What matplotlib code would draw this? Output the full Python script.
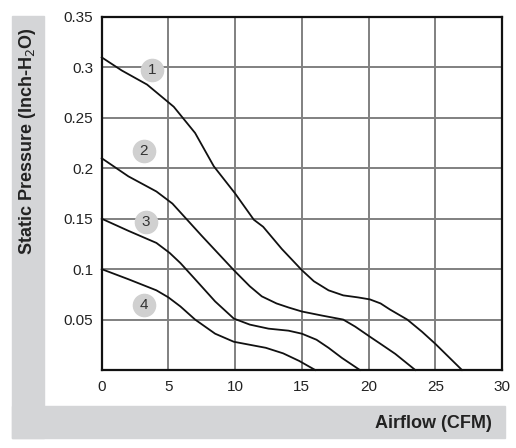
import matplotlib.pyplot as plt
from matplotlib.patches import Rectangle

plt.rcParams['font.family'] = ['Liberation Sans', 'DejaVu Sans']

# fan curves: airflow (CFM) vs static pressure (inch H2O)
x1 = [0, 1.5, 3.4, 5.4, 7, 8.4, 10, 11.4, 12.1, 13.5, 15, 15.9, 17, 18.1, 19.2, 20.1, 20.9, 21.6, 22.9, 24, 25, 26, 27]
y1 = [0.31, 0.297, 0.283, 0.261, 0.235, 0.202, 0.175, 0.149, 0.142, 0.12, 0.099, 0.088, 0.079, 0.074, 0.072, 0.07, 0.066, 0.06, 0.05, 0.038, 0.026, 0.013, 0.0]

x2 = [0, 2, 4.1, 5.3, 6.4, 7.5, 8.7, 9.9, 11.1, 12, 13.1, 14, 15, 16.5, 18.1, 19, 20.1, 21, 22, 23.5]
y2 = [0.21, 0.192, 0.177, 0.165, 0.149, 0.133, 0.116, 0.099, 0.083, 0.073, 0.066, 0.062, 0.058, 0.054, 0.05, 0.043, 0.033, 0.025, 0.016, 0.0]

x3 = [0, 2, 4.1, 5.1, 5.9, 7, 8.5, 9.9, 11.1, 12.5, 14, 15, 16.1, 17, 18, 19.35]
y3 = [0.15, 0.138, 0.126, 0.116, 0.106, 0.09, 0.068, 0.051, 0.045, 0.041, 0.039, 0.036, 0.03, 0.022, 0.012, 0.0]

x4 = [0, 2, 4.1, 5, 5.9, 7, 8.5, 9.9, 11.1, 12.3, 13.6, 14.8, 16]
y4 = [0.10, 0.09, 0.079, 0.072, 0.063, 0.05, 0.036, 0.028, 0.025, 0.022, 0.0165, 0.009, 0.0]

curves = [(x1, y1), (x2, y2), (x3, y3), (x4, y4)]
labels = ['1', '2', '3', '4']
label_x = [3.77, 3.17, 3.32, 3.17]
label_y = [0.297, 0.217, 0.147, 0.0645]

xticks = [0, 5, 10, 15, 20, 25, 30]
yticks = [0.05, 0.1, 0.15, 0.2, 0.25, 0.3, 0.35]
ytick_labels = ['0.05', '0.1', '0.15', '0.2', '0.25', '0.3', '0.35']

fig = plt.figure(figsize=(5.16, 4.48), dpi=100)
gray = '#d4d5d7'
# L-shaped gray band behind the labels
fig.patches.append(Rectangle((12 / 516, 1 - 438 / 448), 32 / 516, 422 / 448,
                             transform=fig.transFigure, color=gray, zorder=0))
fig.patches.append(Rectangle((12 / 516, 1 - 438 / 448), 493 / 516, 32 / 448,
                             transform=fig.transFigure, color=gray, zorder=0))

ax = fig.add_axes([101.7 / 516, 1 - 370 / 448, 400.3 / 516, 353 / 448])
ax.set_xlim(0, 30)
ax.set_ylim(0, 0.35)
ax.set_xticks(xticks)
ax.set_yticks(yticks)
ax.set_yticklabels(ytick_labels)
ax.grid(True, color='#808080', linewidth=1.4)
ax.set_axisbelow(True)
ax.tick_params(length=0, labelsize=11, colors='#222222')
ax.tick_params(axis='y', pad=6)
ax.tick_params(axis='x', pad=7)
for s in ax.spines.values():
    s.set_linewidth(1.6)
    s.set_color('#111111')

for (xs, ys) in curves:
    ax.plot(xs, ys, color='#111111', linewidth=1.3, clip_on=False, zorder=3)

for lab, lx, ly in zip(labels, label_x, label_y):
    ax.plot(lx, ly, 'o', markersize=16, color='#d0d0d0', zorder=4)
    ax.text(lx, ly, lab, ha='center', va='center', fontsize=11, color='#333333', zorder=5)

fig.text(28 / 516, 1 - 141 / 448, 'Static Pressure (Inch-H$_2$O)', rotation=90,
         ha='center', va='center', fontsize=13, fontweight='bold', color='#222222')
fig.text(492 / 516, 1 - 423 / 448, 'Airflow (CFM)', ha='right', va='center',
         fontsize=13, fontweight='bold', color='#222222')

fig.savefig('out.png', dpi=100)
